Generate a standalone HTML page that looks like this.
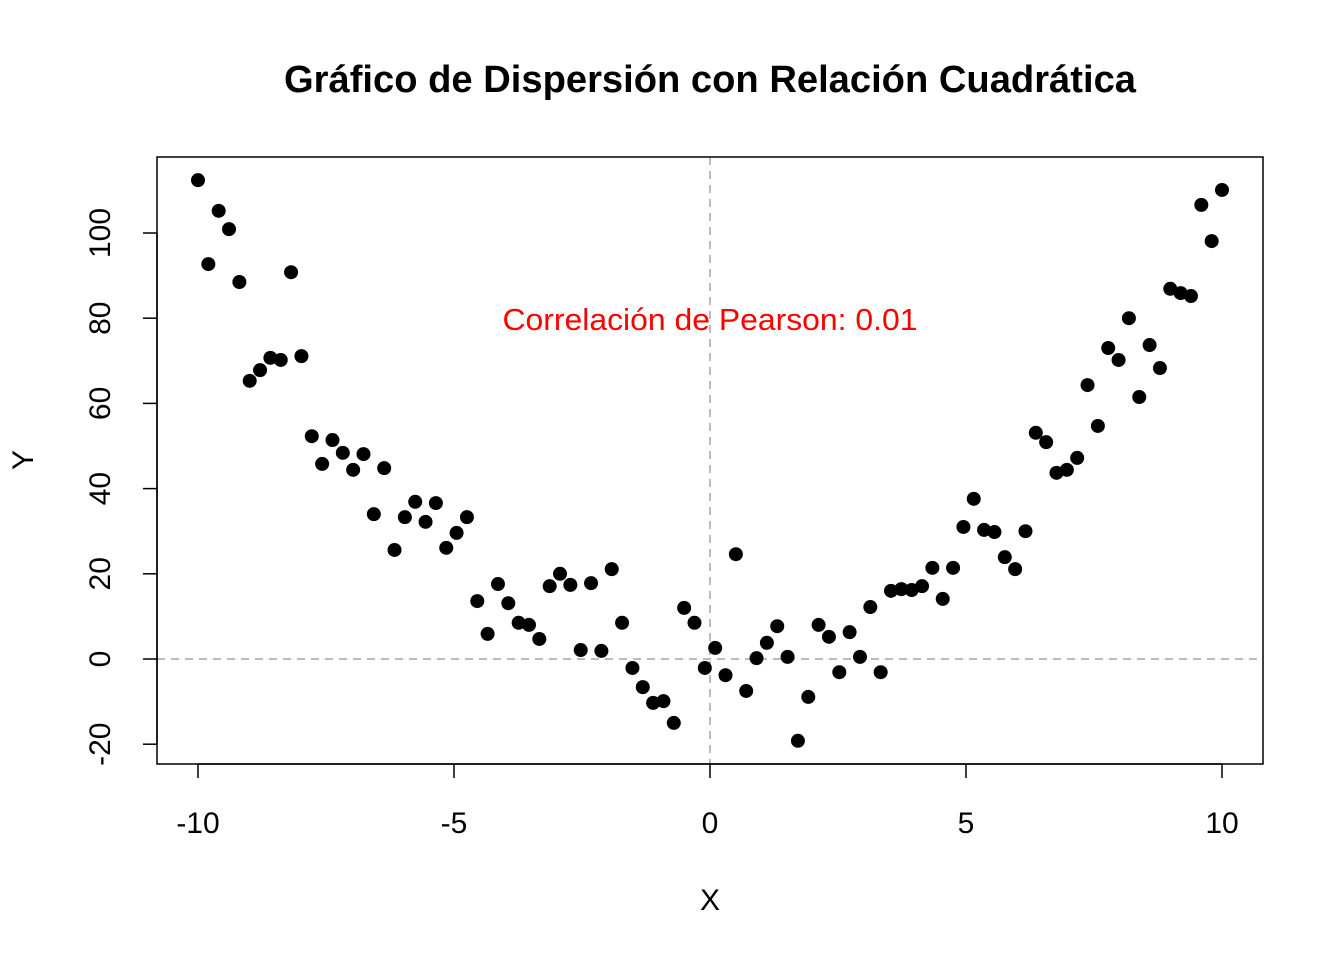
<!DOCTYPE html>
<html><head><meta charset="utf-8"><style>
body{margin:0;background:#fff}
svg text{font-family:"Liberation Sans",Arial,sans-serif}
</style></head><body>
<svg id="chart" width="1344" height="960" viewBox="0 0 1344 960" xmlns="http://www.w3.org/2000/svg">
<rect width="1344" height="960" fill="#fff"/>
<text x="710" y="92" text-anchor="middle" font-size="38" font-weight="bold" textLength="852" lengthAdjust="spacingAndGlyphs">Gráfico de Dispersión con Relación Cuadrática</text>
<g id="grid"></g>
<g id="axes"></g>
<g id="points"></g>
<rect x="157" y="157" width="1106" height="607" fill="none" stroke="#000" stroke-width="1.5"/>
<text x="710" y="330" text-anchor="middle" font-size="31" fill="#ff0000" textLength="415" lengthAdjust="spacingAndGlyphs">Correlación de Pearson: 0.01</text>
<text x="710" y="910" text-anchor="middle" font-size="30">X</text>
<text x="0" y="0" transform="translate(33,460) rotate(-90)" text-anchor="middle" font-size="30">Y</text>
</svg>
<script>
const yValues = [112.4,92.7,105.2,100.9,88.5,65.3,67.8,70.7,70.2,90.8,71.1,52.3,45.8,51.4,48.4,44.4,48.1,34.0,44.8,25.6,33.3,36.9,32.2,36.6,26.1,29.6,33.3,13.6,5.9,17.6,13.1,8.5,8.0,4.7,17.1,20.0,17.4,2.1,17.8,1.9,21.1,8.5,-2.1,-6.6,-10.3,-9.9,-15.0,12.0,8.5,-2.1,2.6,-3.8,24.6,-7.5,0.2,3.8,7.7,0.5,-19.2,-8.9,8.0,5.2,-3.1,6.3,0.5,12.2,-3.1,16.0,16.4,16.2,17.1,21.4,14.1,21.4,31.0,37.6,30.3,29.8,23.9,21.1,30.0,53.1,50.9,43.7,44.4,47.2,64.3,54.7,73.0,70.2,80.0,61.5,73.7,68.3,86.9,85.9,85.2,106.6,98.1,110.1];
const xMin = -10, xMax = 10;
const xTicks = [-10,-5,0,5,10];
const yTicks = [-20,0,20,40,60,80,100];
const NS='http://www.w3.org/2000/svg';
const sx = v => 198 + (v+10)*51.2;
const sy = v => 659 - v*4.26;
function mk(tag, attrs, parent){const e=document.createElementNS(NS,tag);for(const k in attrs)e.setAttribute(k,attrs[k]);parent.appendChild(e);return e;}
const grid=document.getElementById('grid'), axes=document.getElementById('axes'), pts=document.getElementById('points');
let l=mk('line',{x1:157,x2:1263,y1:sy(0),y2:sy(0),stroke:'#bbb','stroke-width':2,'stroke-dasharray':'8,6'},grid);


l=mk('line',{x1:sx(0),x2:sx(0),y1:157,y2:764,stroke:'#bbb','stroke-width':2,'stroke-dasharray':'8,6'},grid);


mk('line',{x1:sx(-10),x2:sx(10),y1:764,y2:764,stroke:'#000','stroke-width':1.5},axes);
xTicks.forEach(t=>{
  const tk=mk('line',{x1:sx(t),x2:sx(t),y1:764,y2:778,stroke:'#000','stroke-width':1.5},axes);
  
  
  const tx=mk('text',{x:sx(t),y:833,'text-anchor':'middle','font-size':30},axes);tx.textContent=t;
  
  
});
mk('line',{x1:157,x2:157,y1:sy(-20),y2:sy(100),stroke:'#000','stroke-width':1.5},axes);
yTicks.forEach(t=>{
  const tk=mk('line',{x1:143,x2:157,y1:sy(t),y2:sy(t),stroke:'#000','stroke-width':1.5},axes);
  
  
  const tx=mk('text',{x:0,y:0,transform:`translate(110,${sy(t)}) rotate(-90)`,'text-anchor':'middle','font-size':30},axes);tx.textContent=t;
  
  
});
yValues.forEach((v,i)=>{
  const x = xMin + i*(xMax-xMin)/(yValues.length-1);
  const c=mk('circle',{cx:sx(x),cy:sy(v),r:7,fill:'#000'},pts);
  
  
});
</script>
</body></html>
